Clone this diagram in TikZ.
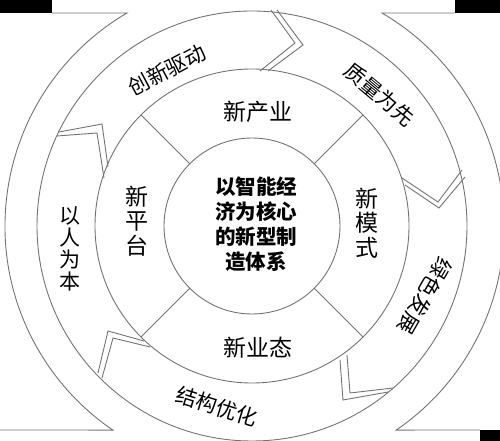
\documentclass[tikz,border=0pt]{standalone}
\usepackage{fontspec}
\setmainfont{Noto Sans CJK SC}
\begin{document}
\begin{tikzpicture}[x=1pt,y=1pt,
  ln/.style={line width=0.9pt, draw=black!55},
  ringtxt/.style={font=\fontsize{23}{24.5}\selectfont, inner sep=0pt, align=center},
  outtxt/.style={font=\fontsize{21}{22}\selectfont, inner sep=0pt, align=center},
  ctrtxt/.style={font=\fontsize{20.5}{25}\selectfont\bfseries, align=center, inner sep=0pt}]
\useasboundingbox (0,0) rectangle (500,441);
\begin{scope}
\clip (0,0) rectangle (500,441);
\coordinate (O) at (252,215);
% circles
\draw[ln] (O) circle[radius=88];
\draw[ln] (O) circle[radius=157];
\draw[ln] (O) circle[radius=215];
% dividers of the middle ring
\foreach \a in {45,135,225,315}
  \draw[ln] ([shift={(\a:88)}]O) -- ([shift={(\a:157)}]O);
% big outer brackets
\draw[ln] (52,428) -- (127,428) arc[start angle=120.4, end angle=235.7, radius=247] -- (0,11);
\draw[ln] (455,428) -- (382,428) arc[start angle=59.6, end angle=-55.7, radius=247] -- (480,11);
\fill[black] (0,441) rectangle (52,428);
\fill[black] (455,441) rectangle (500,428);
\fill[black] (480,0) rectangle (500,11);
% chevron joints
\draw[ln] (59,309) -- (102,317) -- (108,274);
\draw[ln] (57,305) -- (97,308) -- (104,263);
\draw[ln] (271,431) -- (295,398) -- (260,370);
\draw[ln] (277,431) -- (303,396) -- (268,370);
\draw[ln] (402,263) -- (438,239) -- (462,271);
\draw[ln] (405,256) -- (439,233) -- (465,264);
\draw[ln] (340,81) -- (343,41) -- (388,49);
\draw[ln] (347,86) -- (350,48) -- (393,53);
\draw[ln] (144,100) -- (108,110) -- (98,68);
\draw[ln] (150,94) -- (113,103) -- (102,63);
\end{scope}
% texts
\node[ctrtxt] (core) at (256,217) {以智能经\\济为核心\\的新型制\\造体系};
\node[ringtxt] (xcy) at (258,329) {新产业};
\node[ringtxt] (xyt) at (258,93) {新业态};
\node[ringtxt] (xpt) at (137,220) {新\\平\\台};
\node[ringtxt] (xms) at (367,218) {新\\模\\式};
\node[outtxt, rotate=28] (cx) at (167,371) {创新驱动};
\node[outtxt, rotate=-40] (zl) at (380,346.5) {质量为先};
\node[outtxt, rotate=-120] (ls) at (425,145) {绿色发展};
\node[outtxt, rotate=-17] (jg) at (217,34.5) {结构优化};
\node[outtxt] (yr) at (70,192) {以\\人\\为\\本};
\end{tikzpicture}
\end{document}
